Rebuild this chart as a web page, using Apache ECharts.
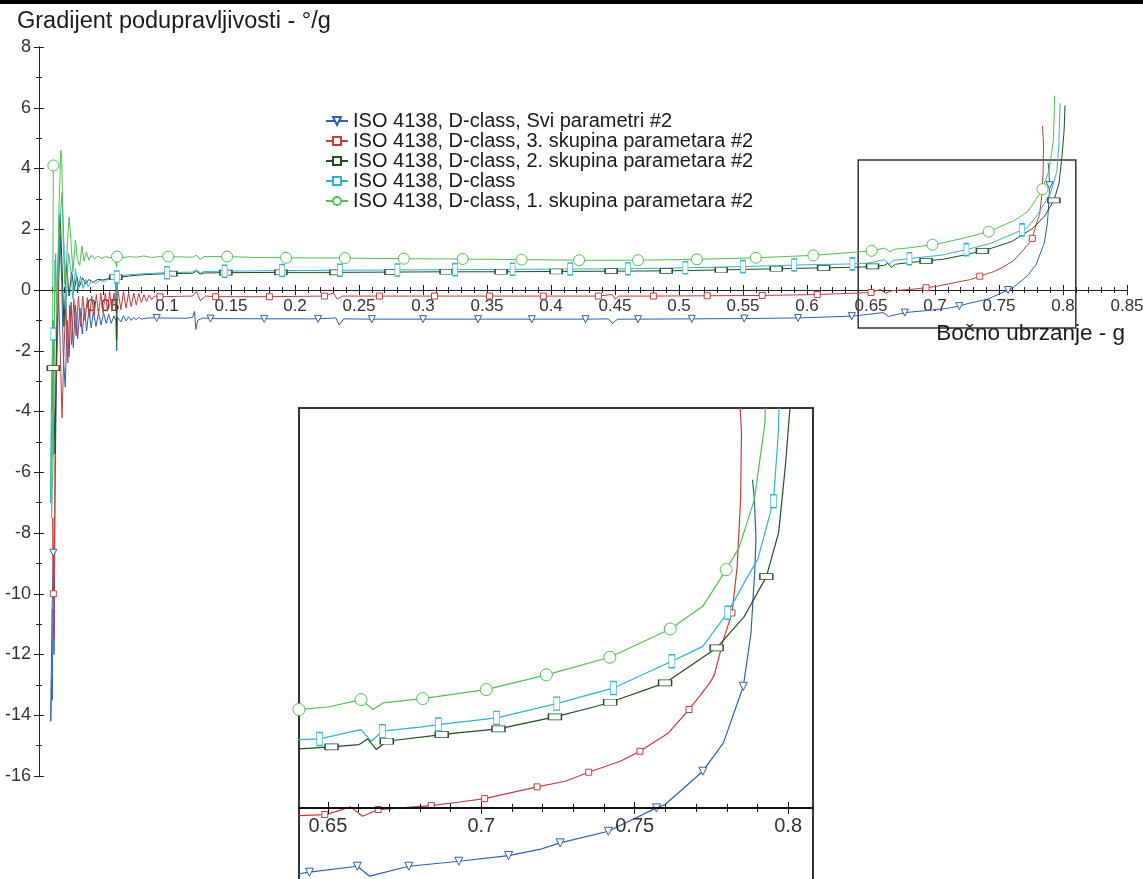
<!DOCTYPE html>
<html><head><meta charset="utf-8">
<script src="https://cdn.jsdelivr.net/npm/echarts@6/dist/echarts.min.js"></script>
<style>html,body{margin:0;padding:0;background:#fff}#c{width:1143px;height:879px}</style>
</head><body><div id="c"></div>
<script>
// ---------- DATA ----------
const seriesNames = [
  'ISO 4138, D-class, Svi parametri #2',
  'ISO 4138, D-class, 3. skupina parametara #2',
  'ISO 4138, D-class, 2. skupina parametara #2',
  'ISO 4138, D-class',
  'ISO 4138, D-class, 1. skupina parametara #2'
];
// [lateral acceleration g, understeer gradient deg/g]
const sviData = [[0.0112,-8.65],[0.0100,-11.0],[0.0092,-14.2],[0.0098,-12.8],[0.0104,-13.5],[0.0110,-10.5],[0.0118,-12.0],[0.0125,-7.0],[0.0135,-3.2],[0.0150,-0.5],[0.0165,1.8],[0.0178,0.2],[0.0190,-2.2],[0.0205,-3.2],[0.0220,-1.0],[0.0235,-2.2],[0.0250,-0.4],[0.0268,-1.9],[0.0285,-0.5],[0.0302,-1.6],[0.0320,-0.6],[0.0338,-1.45],[0.0355,-0.6],[0.0372,-1.35],[0.0390,-0.65],[0.0408,-1.25],[0.0425,-0.7],[0.0445,-1.2],[0.0465,-0.75],[0.0485,-1.15],[0.0505,-0.75],[0.0525,-1.1],[0.0545,-0.8],[0.0565,-1.1],[0.0585,-0.85],[0.0600,-1.0],[0.0607,-2.0],[0.0612,-0.9],[0.0640,-1.05],[0.0660,-0.85],[0.0680,-1.02],[0.0700,-0.88],[0.0720,-1.0],[0.0740,-0.9],[0.0760,-0.98],[0.0780,-0.9],[0.0800,-0.96],[0.0850,-0.92],[0.0920,-0.92],[0.1150,-0.93],[0.1200,-0.9],[0.1215,-0.7],[0.1225,-1.3],[0.1240,-1.0],[0.1280,-0.92],[0.1340,-0.94],[0.1760,-0.95],[0.2180,-0.95],[0.2320,-0.92],[0.2345,-1.15],[0.2380,-0.95],[0.2600,-0.96],[0.3000,-0.96],[0.3430,-0.96],[0.3850,-0.96],[0.4270,-0.96],[0.4450,-0.95],[0.4480,-1.1],[0.4520,-0.96],[0.4680,-0.96],[0.5100,-0.95],[0.5510,-0.94],[0.5930,-0.92],[0.6350,-0.86],[0.6406,-0.84],[0.6440,-0.82],[0.6596,-0.744],[0.6636,-0.871],[0.6764,-0.744],[0.6927,-0.68],[0.7089,-0.608],[0.7190,-0.53],[0.7257,-0.446],[0.7414,-0.298],[0.7571,0.0],[0.7599,0.043],[0.7722,0.468],[0.7789,0.829],[0.7854,1.551],[0.7879,2.231],[0.7892,3.081],[0.7895,3.45],[0.7890,3.931],[0.7884,4.186]];
const sk3Data = [[0.0112,-10.0],[0.0108,-7.5],[0.0118,-11.5],[0.0124,-6.0],[0.0135,-2.5],[0.0150,0.3],[0.0165,-1.8],[0.0180,-4.2],[0.0195,-2.0],[0.0210,-0.4],[0.0225,-2.4],[0.0240,-0.5],[0.0255,-1.8],[0.0272,-0.3],[0.0290,-1.5],[0.0308,-0.2],[0.0325,-1.2],[0.0342,-0.2],[0.0360,-1.0],[0.0378,-0.25],[0.0395,-0.9],[0.0412,-0.2],[0.0430,-0.85],[0.0448,-0.15],[0.0465,-0.8],[0.0483,-0.1],[0.0500,-0.75],[0.0518,-0.1],[0.0535,-0.7],[0.0552,-0.05],[0.0570,-0.7],[0.0587,-0.1],[0.0600,-0.65],[0.0607,0.1],[0.0620,-0.1],[0.0640,-0.65],[0.0660,-0.05],[0.0680,-0.6],[0.0700,-0.1],[0.0720,-0.55],[0.0740,-0.1],[0.0760,-0.5],[0.0780,-0.12],[0.0800,-0.42],[0.0820,-0.15],[0.0840,-0.38],[0.0860,-0.17],[0.0880,-0.32],[0.0900,-0.2],[0.0945,-0.22],[0.1200,-0.2],[0.1230,-0.05],[0.1260,-0.35],[0.1300,-0.2],[0.1380,-0.22],[0.1800,-0.22],[0.2230,-0.2],[0.2300,-0.1],[0.2330,-0.3],[0.2370,-0.2],[0.2660,-0.2],[0.3090,-0.2],[0.3520,-0.2],[0.3940,-0.2],[0.4370,-0.2],[0.4480,-0.15],[0.4500,-0.3],[0.4530,-0.2],[0.4800,-0.2],[0.5220,-0.19],[0.5650,-0.18],[0.6080,-0.15],[0.6406,-0.098],[0.6490,-0.085],[0.6500,-0.08],[0.6574,0.013],[0.6613,-0.106],[0.6664,-0.021],[0.6837,0.03],[0.6930,0.075],[0.7011,0.119],[0.7182,0.268],[0.7274,0.34],[0.7350,0.455],[0.7453,0.595],[0.7517,0.7225],[0.7610,0.956],[0.7677,1.254],[0.7745,1.594],[0.7760,1.70],[0.7789,2.146],[0.7817,2.486],[0.7834,3.081],[0.7845,3.931],[0.7848,4.781],[0.7840,5.4]];
const sk2Data = [[0.0112,-2.57],[0.0100,-4.0],[0.0108,-1.0],[0.0116,-3.5],[0.0125,-5.4],[0.0135,-2.0],[0.0150,1.0],[0.0165,2.5],[0.0180,0.8],[0.0195,-1.2],[0.0215,0.9],[0.0235,-0.2],[0.0255,0.6],[0.0275,0.0],[0.0295,0.45],[0.0315,0.1],[0.0340,0.4],[0.0365,0.2],[0.0390,0.35],[0.0420,0.25],[0.0460,0.35],[0.0500,0.33],[0.0550,0.38],[0.0600,0.42],[0.0607,-1.65],[0.0612,0.4],[0.0700,0.46],[0.0800,0.5],[0.0900,0.52],[0.1030,0.54],[0.1200,0.55],[0.1230,0.62],[0.1260,0.52],[0.1290,0.56],[0.1460,0.57],[0.1890,0.58],[0.2320,0.58],[0.2750,0.59],[0.3180,0.6],[0.3610,0.6],[0.4040,0.61],[0.4470,0.62],[0.4900,0.63],[0.5330,0.66],[0.5760,0.7],[0.6130,0.73],[0.6406,0.752],[0.6512,0.778],[0.6602,0.808],[0.6630,0.88],[0.6658,0.744],[0.6692,0.85],[0.6871,0.935],[0.6930,0.96],[0.7056,1.007],[0.7240,1.16],[0.7370,1.29],[0.7420,1.347],[0.7599,1.594],[0.7767,2.04],[0.7857,2.44],[0.7929,2.95],[0.7969,3.51],[0.7991,4.36],[0.8008,5.2],[0.8016,6.08]];
const dclassData = [[0.0112,-1.45],[0.0098,-3.0],[0.0090,-7.0],[0.0100,-4.0],[0.0110,-5.5],[0.0125,1.0],[0.0140,-0.5],[0.0160,2.0],[0.0180,3.2],[0.0195,1.5],[0.0210,-0.6],[0.0230,1.2],[0.0250,0.6],[0.0265,-0.3],[0.0285,0.7],[0.0305,0.0],[0.0325,0.45],[0.0345,0.05],[0.0365,0.35],[0.0385,0.1],[0.0410,0.3],[0.0440,0.2],[0.0475,0.32],[0.0510,0.28],[0.0550,0.38],[0.0590,0.4],[0.0607,0.43],[0.0609,-0.3],[0.0615,0.45],[0.0700,0.5],[0.0800,0.53],[0.0900,0.55],[0.1000,0.57],[0.1200,0.59],[0.1230,0.67],[0.1260,0.56],[0.1290,0.61],[0.1450,0.62],[0.1900,0.64],[0.2350,0.65],[0.2800,0.66],[0.3250,0.67],[0.3700,0.68],[0.4150,0.69],[0.4600,0.7],[0.5050,0.73],[0.5500,0.77],[0.5900,0.82],[0.6355,0.86],[0.6406,0.871],[0.6473,0.88],[0.6608,0.999],[0.6641,0.85],[0.6678,0.978],[0.6800,1.03],[0.6860,1.063],[0.7050,1.148],[0.7246,1.33],[0.7431,1.53],[0.7621,1.87],[0.7680,1.98],[0.7722,2.06],[0.7803,2.49],[0.7868,2.95],[0.7901,3.17],[0.7952,3.91],[0.7968,4.78],[0.7977,6.15]];
const sk1Data = [[0.0112,4.1],[0.0105,-3.0],[0.0098,-7.5],[0.0110,-5.5],[0.0120,-1.0],[0.0130,1.2],[0.0140,-0.8],[0.0155,2.5],[0.0170,4.6],[0.0178,4.3],[0.0190,1.5],[0.0200,0.2],[0.0215,1.0],[0.0235,2.4],[0.0250,1.6],[0.0265,0.6],[0.0285,1.65],[0.0300,1.0],[0.0318,0.8],[0.0335,1.45],[0.0352,0.95],[0.0370,1.25],[0.0390,0.98],[0.0410,1.15],[0.0435,1.02],[0.0460,1.12],[0.0490,1.04],[0.0520,1.1],[0.0555,1.06],[0.0590,1.1],[0.0602,1.15],[0.0607,0.75],[0.0610,1.1],[0.0650,1.05],[0.0700,1.1],[0.0760,1.08],[0.0820,1.12],[0.0880,1.07],[0.0950,1.1],[0.1010,1.1],[0.1200,1.08],[0.1230,1.15],[0.1260,1.0],[0.1290,1.1],[0.1470,1.1],[0.1700,1.07],[0.1930,1.06],[0.2390,1.05],[0.2850,1.03],[0.3310,1.02],[0.3770,1.0],[0.4220,0.98],[0.4680,0.98],[0.5140,1.01],[0.5600,1.06],[0.6050,1.14],[0.6406,1.254],[0.6505,1.29],[0.6608,1.381],[0.6647,1.254],[0.6680,1.339],[0.6809,1.394],[0.6980,1.49],[0.7016,1.509],[0.7212,1.696],[0.7419,1.921],[0.7616,2.282],[0.7722,2.571],[0.7798,3.039],[0.7840,3.32],[0.7890,3.931],[0.7924,4.9],[0.7930,5.6],[0.7935,6.4]];

// x positions of the points that carry a marker (main plot / inset plot)
const sviMain = [0.0112,0.092,0.134,0.176,0.218,0.26,0.30,0.343,0.385,0.427,0.468,0.51,0.551,0.593,0.635,0.6764,0.719,0.7571,0.7895];
const sviInset = [0.644,0.6596,0.6764,0.6927,0.7089,0.7257,0.7414,0.7571,0.7722,0.7854];
const sk3Main = [0.0112,0.0945,0.138,0.18,0.223,0.266,0.309,0.352,0.394,0.437,0.48,0.522,0.565,0.608,0.65,0.693,0.735,0.776];
const sk3Inset = [0.649,0.6664,0.6837,0.7011,0.7182,0.735,0.7517,0.7677,0.7817];
const sk2Main = [0.0112,0.06,0.103,0.146,0.189,0.232,0.275,0.318,0.361,0.404,0.447,0.49,0.533,0.576,0.613,0.6512,0.693,0.737,0.7929];
const sk2Inset = [0.6512,0.6692,0.6871,0.7056,0.724,0.742,0.7599,0.7767,0.7929];
const dclassMain = [0.0112,0.0607,0.1,0.145,0.19,0.235,0.28,0.325,0.37,0.415,0.46,0.505,0.55,0.59,0.6355,0.68,0.7246,0.768];
const dclassInset = [0.6473,0.6678,0.686,0.705,0.7246,0.7431,0.7621,0.7803,0.7952];
const sk1Main = [0.0112,0.061,0.101,0.147,0.193,0.239,0.285,0.331,0.377,0.422,0.468,0.514,0.56,0.605,0.6505,0.698,0.7419,0.784];
const sk1Inset = [0.6406,0.6608,0.6809,0.7016,0.7212,0.7419,0.7616,0.7798];

// zoom rectangle in main plot [x0, x1, yBottom, yTop]
const zoomBox = [0.64, 0.81, -1.25, 4.28];
// axis ranges and tick values
const mainX = [0, 0.85];
const mainY = [-16, 8];
const insetX = [0.6406, 0.8081];
const insetY = [-1.2, 5.1];
const insetLabels = [0.65, 0.7, 0.75, 0.8];
const insetMinorTicks = [0.65,0.66,0.67,0.68,0.69,0.7,0.71,0.72,0.73,0.74,0.75,0.76,0.77,0.78,0.79,0.8];

// ---------- CHART ----------
const allData = [sviData, sk3Data, sk2Data, dclassData, sk1Data];
const allMain = [sviMain, sk3Main, sk2Main, dclassMain, sk1Main];
const allInset = [sviInset, sk3Inset, sk2Inset, dclassInset, sk1Inset];
const colors = ['#2c5fae', '#c43c3c', '#1f4d22', '#2fb3d3', '#4fc24f'];
const symbols = ['triangle', 'rect', 'rect', 'rect', 'circle'];
const rotates = [180, 0, 0, 0, 0];
const mainSizes = [7, 6, [12, 5], [5, 12], 11];
const insetSizes = [8, 6, [13, 6], [6, 13], 12];

const FONT = "'Liberation Sans', Arial, sans-serif";

function items(data, marks) {
  return data.map(p => marks.indexOf(p[0]) >= 0 ? { value: p } : { value: p, symbol: 'none' });
}

const series = [];
for (let i = 0; i < 5; i++) {
  const base = {
    name: seriesNames[i], type: 'line', showSymbol: true, showAllSymbol: true,
    symbol: symbols[i], symbolRotate: rotates[i], smooth: false, animation: false,
    lineStyle: { color: colors[i], width: 1 },
    itemStyle: { color: '#fff', borderColor: colors[i], borderWidth: 1 },
    emphasis: { disabled: true }
  };
  const m = Object.assign({}, base, { xAxisIndex: 0, yAxisIndex: 0, symbolSize: mainSizes[i], data: items(allData[i], allMain[i]), z: 3 });
  if (i === 0) {
    m.markArea = {
      silent: true, label: { show: false },
      itemStyle: { color: 'rgba(0,0,0,0)', borderColor: '#333', borderWidth: 1.5 },
      data: [[{ xAxis: zoomBox[0], yAxis: zoomBox[3] }, { xAxis: zoomBox[1], yAxis: zoomBox[2] }]]
    };
  }
  series.push(m);
  series.push(Object.assign({}, base, { xAxisIndex: 1, yAxisIndex: 2, symbolSize: insetSizes[i], lineStyle: { color: colors[i], width: 1.2 }, data: items(allData[i], allInset[i]), z: 5 }));
}

const axisColor = '#222';
const hidden = { show: false };
function plainAxis(grid, range) {
  return { type: 'value', gridIndex: grid, min: range[0], max: range[1], show: false,
    axisLine: { show: false, onZero: false }, splitLine: hidden };
}
// x axis drawn along y = 0 of the main plot (carrier grid 2 ends at y = 0)
function mainXAxis(inside, labels) {
  return {
    type: 'value', gridIndex: 2, min: mainX[0], max: mainX[1], interval: 0.05, position: 'bottom',
    axisLine: { show: true, onZero: false, lineStyle: { color: axisColor, width: 1 } },
    axisTick: { show: true, inside: inside, length: 5, lineStyle: { color: axisColor } },
    minorTick: { show: true, splitNumber: 5, length: 3, lineStyle: { color: axisColor } },
    axisLabel: {
      show: labels, margin: 8, fontSize: 17, fontFamily: FONT, color: '#333',
      formatter: v => (Math.abs(v) < 1e-9 ? '' : String(+v.toFixed(2)))
    },
    splitLine: hidden, minorSplitLine: hidden
  };
}
function mainYAxis(inside, labels) {
  return {
    type: 'value', gridIndex: 0, min: mainY[0], max: mainY[1], interval: 2, position: 'left',
    axisLine: { show: true, onZero: false, lineStyle: { color: axisColor, width: 1 } },
    axisTick: { show: true, inside: inside, length: 5, lineStyle: { color: axisColor } },
    minorTick: { show: true, splitNumber: 2, length: 3, lineStyle: { color: axisColor } },
    axisLabel: { show: labels, margin: 8, fontSize: 18, fontFamily: FONT, color: '#333' },
    splitLine: hidden, minorSplitLine: hidden
  };
}
// inset x axis drawn along y = 0 of the inset (carrier grid 3 ends at y = 0)
function insetXAxis(inside, major) {
  return {
    type: 'value', gridIndex: 3, min: insetX[0], max: insetX[1], position: 'bottom', z: 6,
    axisLine: { show: true, onZero: false, lineStyle: { color: '#111', width: 1.5 } },
    axisTick: { show: true, inside: inside, length: major ? 6 : 4, customValues: major ? insetLabels : insetMinorTicks, lineStyle: { color: '#111' } },
    axisLabel: { show: major && !inside, customValues: insetLabels, margin: 9, fontSize: 20, fontFamily: FONT, color: '#333',
      formatter: v => String(+v.toFixed(2)) },
    splitLine: hidden
  };
}

const mainH = 729, mainTop = 47;
const zeroY = mainTop + mainH * mainY[1] / (mainY[1] - mainY[0]);
const insetTop = 408, insetH = 494;
const insetZero = insetTop + insetH * insetY[1] / (insetY[1] - insetY[0]);

const option = {
  backgroundColor: '#fff',
  animation: false,
  title: [
    { text: 'Gradijent podupravljivosti - °/g', left: 17, top: 10, padding: 0,
      textStyle: { fontSize: 23.5, fontWeight: 'normal', fontFamily: FONT, color: '#1a1a1a' } },
    { text: 'Bočno ubrzanje - g', right: 18, top: 322, padding: 0,
      textStyle: { fontSize: 22.5, fontWeight: 'normal', fontFamily: FONT, color: '#1a1a1a' } }
  ],
  legend: {
    orient: 'vertical', left: 325, top: 111, padding: 0, itemGap: 0, itemWidth: 22, itemHeight: 10,
    selectedMode: false, data: seriesNames,
    textStyle: { fontSize: 20, lineHeight: 20, fontFamily: FONT, color: '#1a1a1a' }
  },
  grid: [
    { left: 39, top: mainTop, width: 1088, height: mainH, outerBoundsMode: 'none', containLabel: false },
    { left: 299, top: insetTop, width: 514, height: insetH, show: true, backgroundColor: '#fff',
      borderColor: '#333', borderWidth: 2, outerBoundsMode: 'none', containLabel: false, z: 4 },
    { left: 39, top: mainTop, width: 1088, height: zeroY - mainTop, outerBoundsMode: 'none', containLabel: false },
    { left: 299, top: insetTop, width: 514, height: insetZero - insetTop, outerBoundsMode: 'none', containLabel: false, z: 6 }
  ],
  xAxis: [
    plainAxis(0, mainX), plainAxis(1, insetX),
    mainXAxis(false, true), mainXAxis(true, false),
    insetXAxis(false, false), insetXAxis(true, false), insetXAxis(false, true), insetXAxis(true, true)
  ],
  yAxis: [
    mainYAxis(false, true), mainYAxis(true, false),
    plainAxis(1, insetY), plainAxis(2, [0, 1]), plainAxis(3, [0, 1])
  ],
  graphic: [
    { type: 'rect', left: 0, top: 0, shape: { width: 1143, height: 4 }, style: { fill: '#000' }, z: 100 }
  ],
  series: series
};

const chart = echarts.init(document.getElementById('c'), null, { renderer: 'canvas' });
chart.setOption(option);
</script>
</body></html>
